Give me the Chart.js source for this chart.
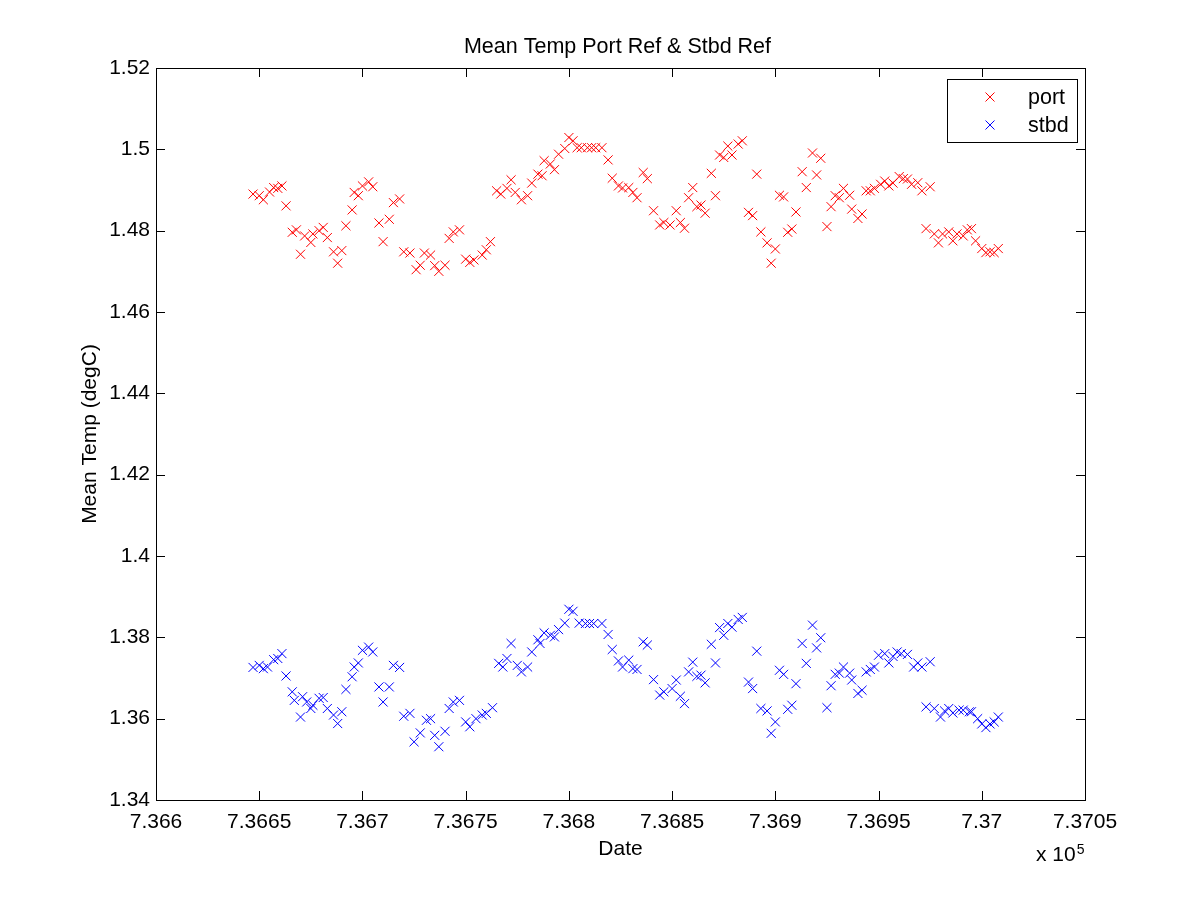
<!DOCTYPE html>
<html>
<head>
<meta charset="utf-8">
<title>Mean Temp Port Ref & Stbd Ref</title>
<script src="https://cdn.jsdelivr.net/npm/chart.js"></script>
<style>
  html, body { margin: 0; padding: 0; background: #ffffff; }
  #wrap { width: 1200px; height: 900px; }
</style>
</head>
<body>
<div id="wrap"><canvas id="tempChart" width="1200" height="900"></canvas></div>
<script>
// === Data (dates are serial day numbers, plotted as x 10^5) ===
const portDates = [
    736647, 736650, 736652, 736655, 736657, 736659, 736661, 736663, 736666, 736668,
    736670, 736672, 736675, 736676, 736679, 736681, 736683, 736686, 736688, 736690,
    736692, 736695, 736696, 736698, 736700, 736703, 736705, 736708, 736710, 736713,
    736715, 736718, 736720, 736723, 736726, 736728, 736730, 736733, 736735, 736737,
    736740, 736742, 736744, 736747, 736750, 736752, 736754, 736758, 736760, 736762,
    736765, 736767, 736770, 736772, 736774, 736777, 736780, 736782, 736785, 736787,
    736788, 736791, 736793, 736795, 736798, 736800, 736802, 736804, 736806, 736809,
    736811, 736813, 736816, 736819, 736821, 736824, 736826, 736829, 736831, 736833,
    736836, 736838, 736841, 736844, 736846, 736849, 736852, 736854, 736856, 736858,
    736860, 736862, 736864, 736866, 736869, 736871, 736873, 736875, 736877, 736879,
    736882, 736884, 736887, 736889, 736891, 736893, 736896, 736898, 736900, 736902,
    736904, 736906, 736908, 736910, 736913, 736915, 736918, 736920, 736922, 736925,
    736927, 736929, 736931, 736933, 736936, 736937, 736940, 736942, 736944, 736946,
    736948, 736951, 736953, 736955, 736957, 736960, 736962, 736964, 736966, 736969,
    736971, 736973, 736975, 736977, 736979, 736981, 736984, 736986, 736988, 736991,
    736993, 736995, 736997, 737000, 737002, 737004, 737006, 737008
];
const portTemps = [
    1.4890, 1.4886, 1.4876, 1.4895, 1.4906, 1.4904, 1.4910, 1.4861, 1.4796, 1.4802,
    1.4742, 1.4787, 1.4771, 1.4792, 1.4800, 1.4808, 1.4783, 1.4748, 1.4720, 1.4751,
    1.4812, 1.4851, 1.4894, 1.4886, 1.4910, 1.4920, 1.4908, 1.4819, 1.4773, 1.4828,
    1.4869, 1.4878, 1.4748, 1.4745, 1.4704, 1.4715, 1.4745, 1.4740, 1.4714, 1.4700,
    1.4715, 1.4781, 1.4797, 1.4802, 1.4730, 1.4722, 1.4728, 1.4740, 1.4753, 1.4773,
    1.4898, 1.4890, 1.4904, 1.4925, 1.4894, 1.4876, 1.4886, 1.4917, 1.4939, 1.4935,
    1.4972, 1.4964, 1.4950, 1.4988, 1.5002, 1.5029, 1.5021, 1.5004, 1.5004, 1.5004,
    1.5004, 1.5004, 1.5004, 1.4974, 1.4929, 1.4910, 1.4905, 1.4906, 1.4894, 1.4881,
    1.4943, 1.4928, 1.4849, 1.4814, 1.4820, 1.4814, 1.4849, 1.4820, 1.4806, 1.4881,
    1.4906, 1.4859, 1.4863, 1.4843, 1.4941, 1.4886, 1.4986, 1.4980, 1.5008, 1.4986,
    1.5013, 1.5021, 1.4845, 1.4837, 1.4939, 1.4797, 1.4770, 1.4720, 1.4755, 1.4887,
    1.4883, 1.4796, 1.4804, 1.4846, 1.4945, 1.4906, 1.4991, 1.4937, 1.4978, 1.4810,
    1.4859, 1.4886, 1.4881, 1.4904, 1.4887, 1.4853, 1.4830, 1.4841, 1.4898, 1.4898,
    1.4904, 1.4914, 1.4922, 1.4910, 1.4917, 1.4933, 1.4928, 1.4927, 1.4914, 1.4918,
    1.4898, 1.4805, 1.4908, 1.4792, 1.4770, 1.4792, 1.4797, 1.4775, 1.4792, 1.4787,
    1.4802, 1.4805, 1.4775, 1.4756, 1.4746, 1.4748, 1.4746, 1.4756
];

const stbdDates = [
    736647, 736650, 736652, 736654, 736657, 736659, 736661, 736663, 736666, 736667,
    736670, 736671, 736673, 736675, 736676, 736679, 736681, 736683, 736686, 736688,
    736690, 736692, 736695, 736696, 736698, 736700, 736703, 736705, 736708, 736710,
    736713, 736715, 736718, 736720, 736723, 736725, 736728, 736731, 736733, 736735,
    736737, 736740, 736742, 736744, 736747, 736750, 736752, 736755, 736758, 736760,
    736763, 736766, 736768, 736770, 736772, 736775, 736777, 736780, 736782, 736785,
    736786, 736788, 736791, 736793, 736795, 736798, 736800, 736802, 736805, 736808,
    736810, 736812, 736816, 736819, 736821, 736824, 736826, 736829, 736831, 736833,
    736836, 736838, 736841, 736844, 736846, 736850, 736852, 736854, 736856, 736858,
    736860, 736862, 736864, 736866, 736869, 736871, 736873, 736875, 736877, 736879,
    736882, 736884, 736887, 736889, 736891, 736893, 736896, 736898, 736900, 736902,
    736904, 736906, 736908, 736910, 736913, 736915, 736918, 736920, 736922, 736925,
    736927, 736929, 736931, 736933, 736936, 736937, 736940, 736942, 736944, 736946,
    736948, 736950, 736953, 736955, 736957, 736959, 736961, 736964, 736967, 736969,
    736971, 736973, 736975, 736977, 736980, 736982, 736984, 736986, 736989, 736991,
    736994, 736995, 736998, 737000, 737002, 737004, 737006, 737008
];
const stbdTemps = [
    1.3726, 1.3731, 1.3723, 1.3727, 1.3745, 1.3748, 1.3760, 1.3705, 1.3666, 1.3645,
    1.3604, 1.3654, 1.3641, 1.3625, 1.3633, 1.3650, 1.3652, 1.3625, 1.3609, 1.3588,
    1.3617, 1.3672, 1.3703, 1.3727, 1.3737, 1.3768, 1.3776, 1.3764, 1.3678, 1.3641,
    1.3678, 1.3731, 1.3726, 1.3606, 1.3613, 1.3543, 1.3565, 1.3596, 1.3600, 1.3559,
    1.3531, 1.3569, 1.3625, 1.3641, 1.3645, 1.3592, 1.3580, 1.3600, 1.3609, 1.3613,
    1.3627, 1.3736, 1.3727, 1.3748, 1.3785, 1.3731, 1.3715, 1.3727, 1.3764, 1.3794,
    1.3785, 1.3811, 1.3805, 1.3801, 1.3819, 1.3835, 1.3869, 1.3864, 1.3835, 1.3834,
    1.3834, 1.3834, 1.3834, 1.3807, 1.3770, 1.3742, 1.3727, 1.3744, 1.3723, 1.3721,
    1.3789, 1.3781, 1.3696, 1.3658, 1.3666, 1.3674, 1.3695, 1.3655, 1.3637, 1.3715,
    1.3739, 1.3704, 1.3707, 1.3688, 1.3783, 1.3737, 1.3824, 1.3805, 1.3834, 1.3825,
    1.3844, 1.3849, 1.3690, 1.3674, 1.3766, 1.3625, 1.3619, 1.3564, 1.3592, 1.3719,
    1.3709, 1.3623, 1.3633, 1.3686, 1.3785, 1.3736, 1.3830, 1.3774, 1.3799, 1.3627,
    1.3681, 1.3709, 1.3712, 1.3727, 1.3712, 1.3695, 1.3662, 1.3670, 1.3715, 1.3721,
    1.3727, 1.3756, 1.3760, 1.3737, 1.3753, 1.3764, 1.3760, 1.3758, 1.3727, 1.3737,
    1.3727, 1.3629, 1.3740, 1.3625, 1.3604, 1.3619, 1.3625, 1.3614, 1.3621, 1.3621,
    1.3617, 1.3617, 1.3600, 1.3587, 1.3578, 1.3587, 1.3592, 1.3604
];

const seriesNames = ["port", "stbd"];
const seriesColors = ["#ff0000", "#0000ff"];

const xTickMin = 736600, xTickMax = 737050, xTickStep = 50;
const yTickMin = 1.34, yTickMax = 1.52, yTickStep = 0.02;

const chartTitle = "Mean Temp Port Ref & Stbd Ref";
const xLabel = "Date";
const yLabel = "Mean Temp (degC)";

const FONT = '"Liberation Sans", Arial, Helvetica, sans-serif';

function toPoints(xs, ys) {
    return xs.map((x, i) => ({ x: x, y: ys[i] }));
}

// === Frame, inward ticks, labels and legend drawn MATLAB-style ===
const matlabFrame = {
    id: "matlabFrame",
    afterDraw(chart) {
        const ctx = chart.ctx;
        const a = chart.chartArea;
        const xs = chart.scales.x;
        const ys = chart.scales.y;
        const tick = 9;

        ctx.save();
        ctx.strokeStyle = "#000";
        ctx.lineWidth = 1;

        // box
        ctx.strokeRect(Math.round(a.left) + 0.5, Math.round(a.top) + 0.5,
            Math.round(a.right - a.left), Math.round(a.bottom - a.top));

        ctx.beginPath();
        xs.ticks.forEach(t => {
            const px = Math.round(xs.getPixelForValue(t.value)) + 0.5;
            ctx.moveTo(px, a.bottom); ctx.lineTo(px, a.bottom - tick);
            ctx.moveTo(px, a.top); ctx.lineTo(px, a.top + tick);
        });
        ys.ticks.forEach(t => {
            const py = Math.round(ys.getPixelForValue(t.value)) + 0.5;
            ctx.moveTo(a.left, py); ctx.lineTo(a.left + tick, py);
            ctx.moveTo(a.right, py); ctx.lineTo(a.right - tick, py);
        });
        ctx.stroke();

        const midX = (a.left + a.right) / 2;
        ctx.fillStyle = "#000";

        // title
        ctx.font = "21.5px " + FONT;
        ctx.textAlign = "center";
        ctx.textBaseline = "alphabetic";
        ctx.fillText(chartTitle, midX - 3, 53);

        // x label
        ctx.font = "21px " + FONT;
        ctx.fillText(xLabel, midX, 855);

        // exponent note
        ctx.textAlign = "left";
        const base = "x 10";
        ctx.fillText(base, 1036, 861);
        const baseW = ctx.measureText(base).width;
        ctx.font = "14px " + FONT;
        ctx.fillText("5", 1036 + baseW + 1, 854);

        // y label
        ctx.font = "21px " + FONT;
        ctx.translate(96, (a.top + a.bottom) / 2);
        ctx.rotate(-Math.PI / 2);
        ctx.textAlign = "center";
        ctx.fillText(yLabel, 0, 0);
        ctx.setTransform(1, 0, 0, 1, 0, 0);

        // legend
        const lx = 947, ly = 79, lw = 130, lh = 63;
        ctx.fillStyle = "#fff";
        ctx.fillRect(lx, ly, lw, lh);
        ctx.strokeStyle = "#000";
        ctx.strokeRect(lx + 0.5, ly + 0.5, lw, lh);
        seriesNames.forEach((name, i) => {
            const cy = ly + 18 + i * 28;
            const cx = 990;
            const r = 4.5;
            ctx.strokeStyle = seriesColors[i];
            ctx.beginPath();
            ctx.moveTo(cx - r, cy - r); ctx.lineTo(cx + r, cy + r);
            ctx.moveTo(cx - r, cy + r); ctx.lineTo(cx + r, cy - r);
            ctx.stroke();
            ctx.fillStyle = "#000";
            ctx.font = "21.5px " + FONT;
            ctx.textAlign = "left";
            ctx.textBaseline = "middle";
            ctx.fillText(name, 1028, cy + 1);
        });
        ctx.restore();
    }
};

const ctxEl = document.getElementById("tempChart");

new Chart(ctxEl, {
    type: "scatter",
    data: {
        datasets: [
            {
                label: seriesNames[0],
                data: toPoints(portDates, portTemps),
                pointStyle: "crossRot",
                pointRadius: 6.4,
                pointBorderWidth: 1,
                borderColor: seriesColors[0],
                backgroundColor: seriesColors[0],
                showLine: false
            },
            {
                label: seriesNames[1],
                data: toPoints(stbdDates, stbdTemps),
                pointStyle: "crossRot",
                pointRadius: 6.4,
                pointBorderWidth: 1,
                borderColor: seriesColors[1],
                backgroundColor: seriesColors[1],
                showLine: false
            }
        ]
    },
    options: {
        responsive: false,
        animation: false,
        devicePixelRatio: 1,
        events: [],
        layout: { padding: { left: 0, top: 68, right: 115, bottom: 0 } },
        plugins: {
            legend: { display: false },
            title: { display: false },
            tooltip: { enabled: false }
        },
        scales: {
            x: {
                type: "linear",
                min: xTickMin,
                max: xTickMax,
                grid: { display: false, drawTicks: false },
                border: { display: false },
                afterFit: scale => { scale.height = 100; },
                afterBuildTicks: scale => {
                    const t = [];
                    for (let v = xTickMin; v <= xTickMax; v += xTickStep) t.push({ value: v });
                    scale.ticks = t;
                },
                ticks: {
                    maxRotation: 0,
                    autoSkip: false,
                    padding: 10,
                    color: "#000",
                    font: { family: FONT, size: 21 },
                    callback: v => parseFloat((v / 1e5).toFixed(5)).toString()
                }
            },
            y: {
                type: "linear",
                min: yTickMin,
                max: yTickMax,
                grid: { display: false, drawTicks: false },
                border: { display: false },
                afterFit: scale => { scale.width = 156; },
                afterBuildTicks: scale => {
                    const t = [];
                    for (let i = 0; i <= Math.round((yTickMax - yTickMin) / yTickStep); i++) {
                        t.push({ value: +(yTickMin + i * yTickStep).toFixed(2) });
                    }
                    scale.ticks = t;
                },
                ticks: {
                    autoSkip: false,
                    padding: 6,
                    color: "#000",
                    font: { family: FONT, size: 21 },
                    callback: v => parseFloat(v.toFixed(2)).toString()
                }
            }
        }
    },
    plugins: [matlabFrame]
});
</script>
</body>
</html>
